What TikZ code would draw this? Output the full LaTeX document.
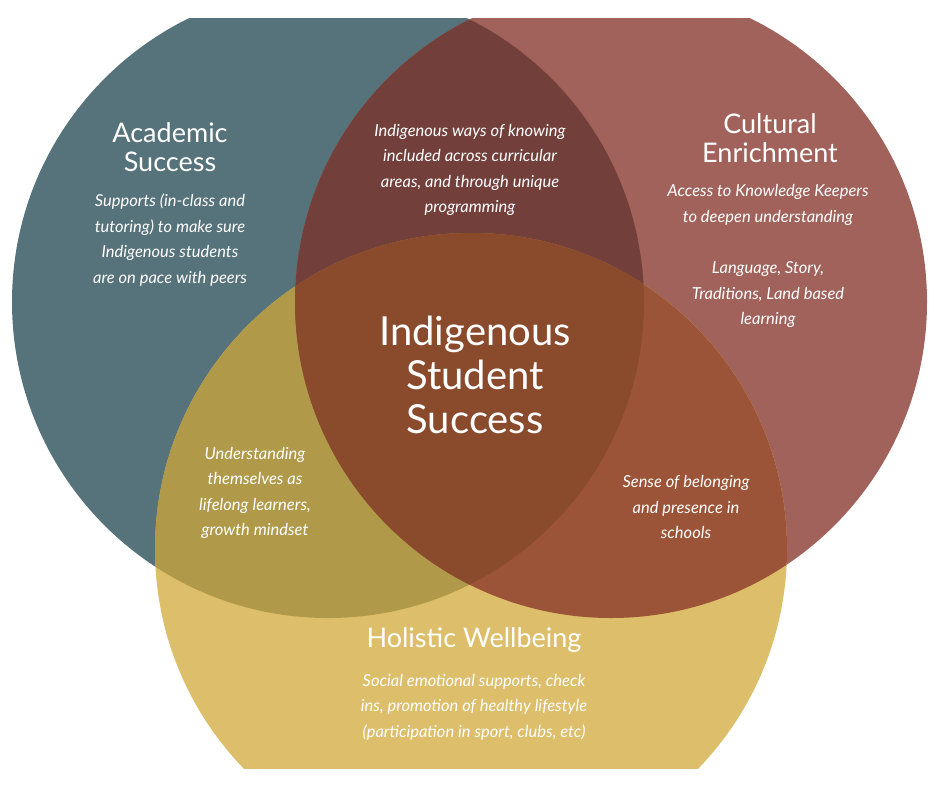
\documentclass[tikz,border=0pt]{standalone}
\usepackage{fontspec}
\setmainfont{Lato}
\definecolor{cteal}{HTML}{56727A}
\definecolor{cred}{HTML}{A0625A}
\definecolor{cyel}{HTML}{DDBE6A}
\definecolor{ctr}{HTML}{733F3B}
\definecolor{cty}{HTML}{B09A4A}
\definecolor{cry}{HTML}{9C5438}
\definecolor{call}{HTML}{8A4A2C}
\begin{document}
\begin{tikzpicture}[x=1pt,y=-1pt,
  title/.style={text=white,align=center,font=\fontsize{27}{29}\selectfont},
  body/.style={text=white,align=center,font=\itshape\fontsize{16.5}{25.5}\selectfont},
  big/.style={text=white,align=center,font=\fontsize{40}{44}\selectfont}]
\useasboundingbox (0,0) rectangle (940,788);
\def\A{(328,302) circle (316)}
\def\B{(611,302) circle (316)}
\def\C{(471,549) circle (316)}
\begin{scope}
\clip (0,18) rectangle (940,768);
\fill[cteal] \A;
\fill[cred] \B;
\fill[cyel] \C;
\begin{scope}\clip \A; \fill[ctr] \B; \end{scope}
\begin{scope}\clip \A; \fill[cty] \C; \end{scope}
\begin{scope}\clip \B; \fill[cry] \C; \end{scope}
\begin{scope}\clip \A; \clip \B; \fill[call] \C; \end{scope}
\end{scope}
\node[title] (t1) at (170,147) {Academic\\Success};
\node[body] (b1) at (170,240) {Supports (in-class and\\tutoring) to make sure\\Indigenous students\\are on pace with peers};
\node[body] (b2) at (470,170) {Indigenous ways of knowing\\included across curricular\\areas, and through unique\\programming};
\node[title] (t2) at (770,138) {Cultural\\Enrichment};
\node[body] (b3) at (768,205) {Access to Knowledge Keepers\\to deepen understanding};
\node[body] (b4) at (768,295) {Language, Story,\\Traditions, Land based\\learning};
\node[big] (c) at (475,375) {Indigenous\\Student\\Success};
\node[body] (b5) at (255,493) {Understanding\\themselves as\\lifelong learners,\\growth mindset};
\node[body] (b6) at (686,507) {Sense of belonging\\and presence in\\schools};
\node[title] (t3) at (474,640) {Holistic Wellbeing};
\node[body] (b7) at (474,707) {Social emotional supports, check\\ins, promotion of healthy lifestyle\\(participation in sport, clubs, etc)};
\end{tikzpicture}
\end{document}
